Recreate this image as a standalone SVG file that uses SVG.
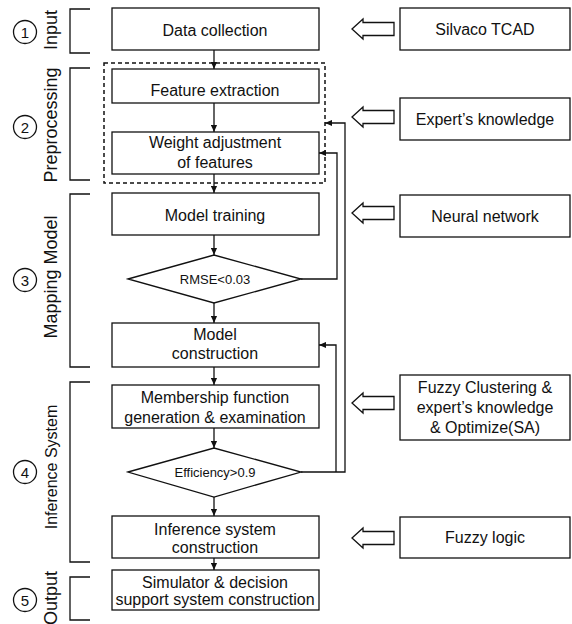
<svg xmlns="http://www.w3.org/2000/svg" width="572" height="624" viewBox="0 0 572 624">
<defs>
<style>
.box{fill:#fff;stroke:#111;stroke-width:1.3}
.t{font-family:"Liberation Sans",Arial,sans-serif;font-size:16px;fill:#111;text-anchor:middle}
.s{font-size:13px}
.lab{font-family:"Liberation Sans",Arial,sans-serif;font-size:18px;fill:#111;text-anchor:middle}
.num{font-family:"Liberation Sans",Arial,sans-serif;font-size:15px;fill:#111;text-anchor:middle}
.ln{fill:none;stroke:#111;stroke-width:1.3}
.hol{fill:#fff;stroke:#111;stroke-width:1.3;stroke-linejoin:miter}
.dash{fill:none;stroke:#111;stroke-width:1.5;stroke-dasharray:4 3}
</style>
<marker id="ah" viewBox="0 0 8 8" refX="8" refY="4" markerWidth="7" markerHeight="7" markerUnits="userSpaceOnUse" orient="auto">
<path d="M0,0.5 L8,4 L0,7.5 Z" fill="#111"/>
</marker>
<path id="hollow" d="M0,0 L11,-10 L11,-6.5 L42,-6.5 L42,6.5 L11,6.5 L11,10 Z"/>
</defs>

<g id="stages">
<g id="stage1">
<circle cx="25" cy="32" r="11.5" fill="none" stroke="#111" stroke-width="1.3"/>
<text class="num" x="25" y="37.5">1</text>
<text class="lab" transform="translate(57,30) rotate(-90)">Input</text>
<path class="ln" d="M90,9 H70 V53 H90"/>
</g>
<g id="stage2">
<circle cx="25" cy="127" r="11.5" fill="none" stroke="#111" stroke-width="1.3"/>
<text class="num" x="25" y="132.5">2</text>
<text class="lab" transform="translate(57,125) rotate(-90)">Preprocessing</text>
<path class="ln" d="M90,68 H70 V180 H90"/>
</g>
<g id="stage3">
<circle cx="25" cy="280" r="11.5" fill="none" stroke="#111" stroke-width="1.3"/>
<text class="num" x="25" y="285.5">3</text>
<text class="lab" transform="translate(57,277) rotate(-90)">Mapping Model</text>
<path class="ln" d="M90,194 H70 V367 H90"/>
</g>
<g id="stage4">
<circle cx="25" cy="472" r="11.5" fill="none" stroke="#111" stroke-width="1.3"/>
<text class="num" x="25" y="477.5">4</text>
<text class="lab" style="font-size:16px" transform="translate(57,467) rotate(-90)">Inference System</text>
<path class="ln" d="M90,382 H70 V562 H90"/>
</g>
<g id="stage5">
<circle cx="25" cy="600" r="11.5" fill="none" stroke="#111" stroke-width="1.3"/>
<text class="num" x="25" y="605.5">5</text>
<text class="lab" transform="translate(57,598) rotate(-90)">Output</text>
<path class="ln" d="M90,577 H70 V620 H90"/>
</g>
</g>

<g id="preprocessing-group">
<rect class="dash" x="104" y="63" width="221" height="120"/>
</g>

<g id="connectors">
<path class="ln" d="M214,50 V69" marker-end="url(#ah)"/>
<path class="ln" d="M214,103 V132" marker-end="url(#ah)"/>
<path class="ln" d="M214,174 V193" marker-end="url(#ah)"/>
<path class="ln" d="M214,235 V255" marker-end="url(#ah)"/>
<path class="ln" d="M214,303 V323" marker-end="url(#ah)"/>
<path class="ln" d="M214,367 V385" marker-end="url(#ah)"/>
<path class="ln" d="M214,428 V448" marker-end="url(#ah)"/>
<path class="ln" d="M214,497 V516" marker-end="url(#ah)"/>
<path class="ln" d="M214,558 V570" marker-end="url(#ah)"/>
<path class="ln" d="M301,279 H337 V153 H319" marker-end="url(#ah)"/>
<path class="ln" d="M301,472 H345 V123 H325" marker-end="url(#ah)"/>
<path class="ln" d="M336,472 V345 H319" marker-end="url(#ah)"/>
<use href="#hollow" class="hol" x="352" y="29"/>
<use href="#hollow" class="hol" x="352" y="117"/>
<use href="#hollow" class="hol" x="352" y="213"/>
<use href="#hollow" class="hol" x="352" y="403"/>
<use href="#hollow" class="hol" x="352" y="538"/>
</g>

<g id="data-collection"><rect class="box" x="112" y="8" width="207" height="42"/><text class="t" x="215" y="36">Data collection</text></g>
<g id="feature-extraction"><rect class="box" x="112" y="69" width="207" height="34"/><text class="t" x="215" y="96">Feature extraction</text></g>
<g id="weight-adjustment"><rect class="box" x="112" y="132" width="207" height="42"/><text class="t" x="215" y="148">Weight adjustment</text><text class="t" x="215" y="168">of features</text></g>
<g id="model-training"><rect class="box" x="112" y="193" width="207" height="42"/><text class="t" x="215" y="221">Model training</text></g>
<g id="rmse"><path class="box" d="M128,279 L214,255 L301,279 L214,303 Z"/><text class="t s" x="215" y="284">RMSE&lt;0.03</text></g>
<g id="model-construction"><rect class="box" x="112" y="323" width="207" height="44"/><text class="t" x="215" y="340">Model</text><text class="t" x="215" y="359">construction</text></g>
<g id="membership"><rect class="box" x="112" y="385" width="207" height="43"/><text class="t" x="215" y="403">Membership function</text><text class="t" x="215" y="423">generation &amp; examination</text></g>
<g id="efficiency"><path class="box" d="M128,472 L214,448 L301,472 L214,497 Z"/><text class="t s" x="215" y="477">Efficiency&gt;0.9</text></g>
<g id="inference"><rect class="box" x="112" y="516" width="207" height="42"/><text class="t" x="215" y="535">Inference system</text><text class="t" x="215" y="553">construction</text></g>
<g id="simulator"><rect class="box" x="112" y="570" width="207" height="40"/><text class="t" x="215" y="588">Simulator &amp; decision</text><text class="t" x="215" y="605">support system construction</text></g>

<g id="silvaco"><rect class="box" x="400" y="8" width="170" height="42"/><text class="t" x="485" y="35">Silvaco TCAD</text></g>
<g id="expert"><rect class="box" x="400" y="98" width="170" height="42"/><text class="t" x="485" y="125">Expert’s knowledge</text></g>
<g id="neural"><rect class="box" x="400" y="195" width="170" height="42"/><text class="t" x="485" y="222">Neural network</text></g>
<g id="fuzzy-clustering"><rect class="box" x="400" y="375" width="170" height="65"/><text class="t" x="485" y="393">Fuzzy Clustering &amp;</text><text class="t" x="485" y="413">expert’s knowledge</text><text class="t" x="485" y="433">&amp; Optimize(SA)</text></g>
<g id="fuzzy-logic"><rect class="box" x="400" y="517" width="170" height="41"/><text class="t" x="485" y="543">Fuzzy logic</text></g>
</svg>
